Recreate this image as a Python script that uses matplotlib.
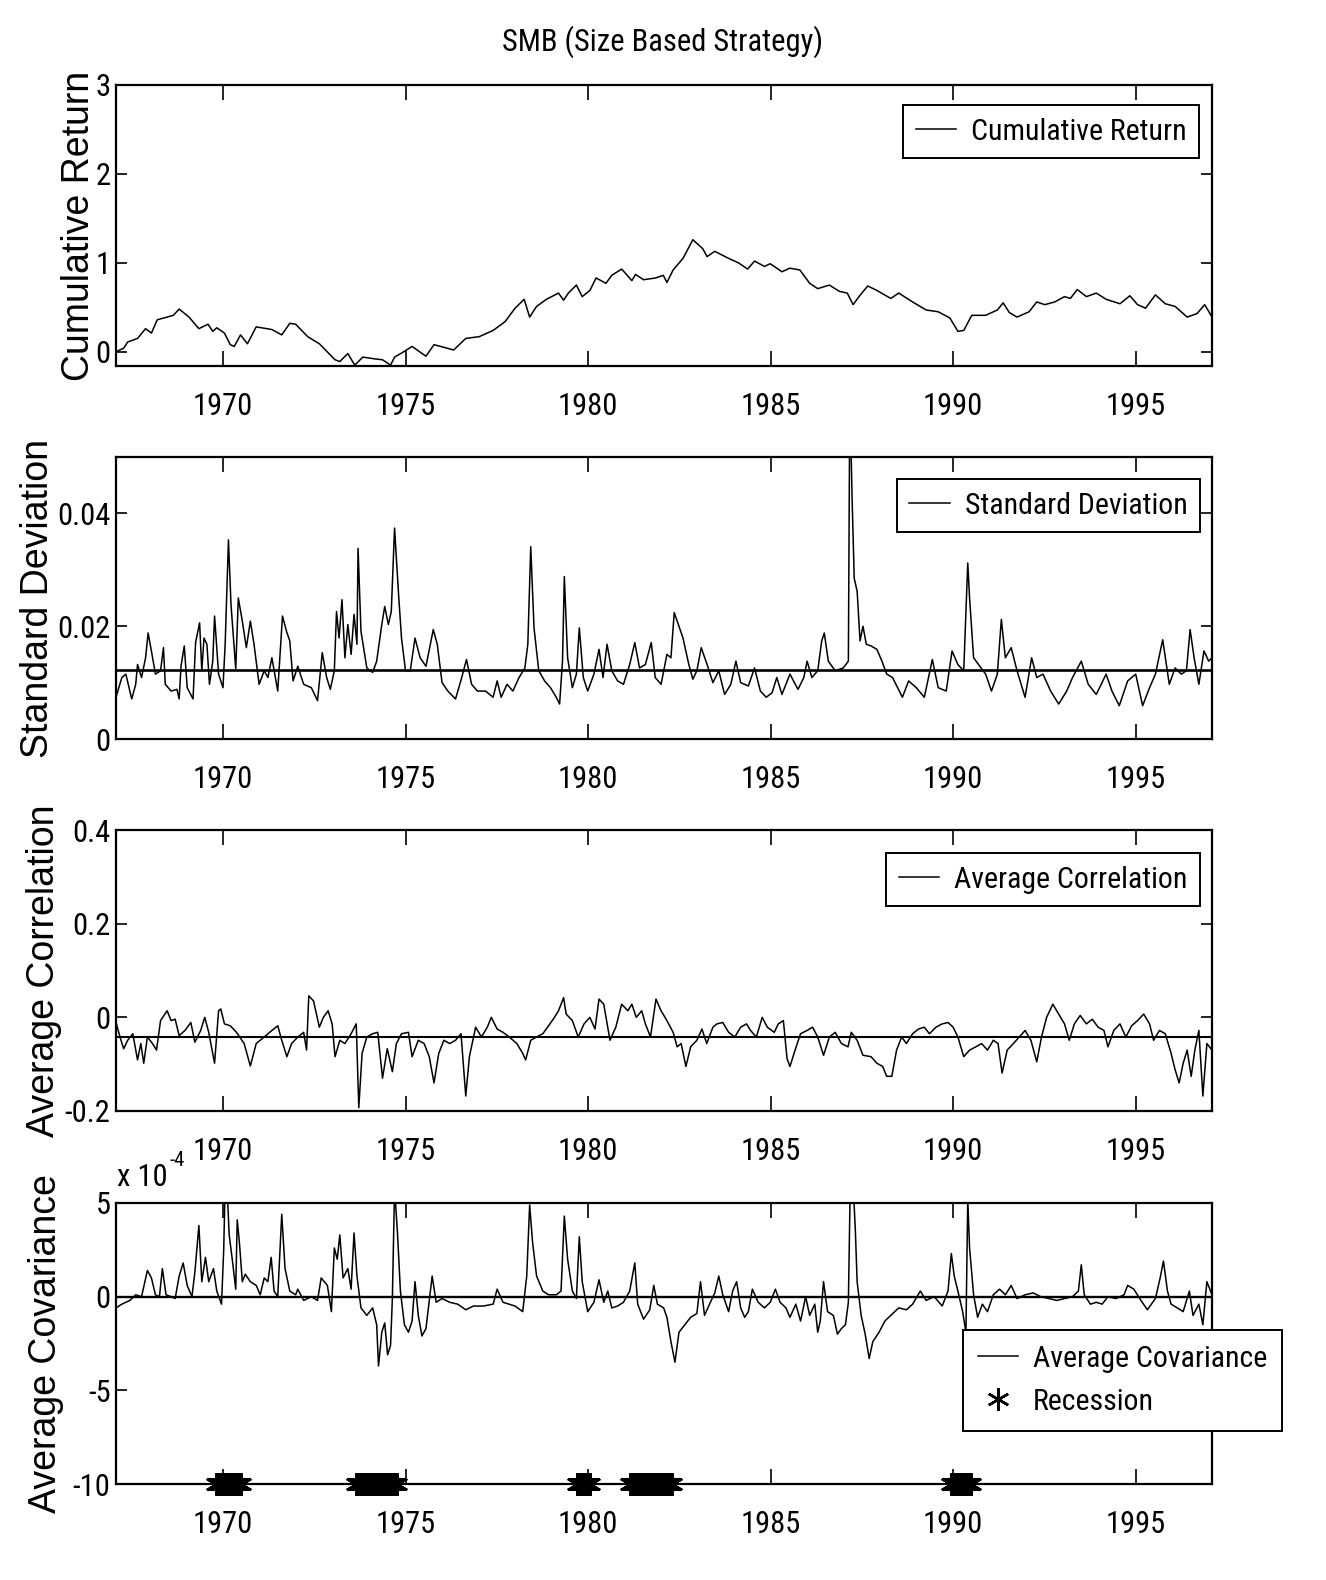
import numpy as np
import matplotlib
matplotlib.use('Agg')
import matplotlib.pyplot as plt
from matplotlib import font_manager

_fonts = font_manager.fontManager.ttflist
_names = {f.name for f in _fonts}


def pick_narrow():
    prefs = ['Liberation Sans Narrow', 'Arial Narrow', 'Nimbus Sans Narrow', 'Roboto Condensed',
             'Open Sans Condensed', 'Noto Sans Condensed', 'DejaVu Sans Condensed', 'Lato Condensed']
    for p in prefs:
        if p in _names:
            return p, 'normal'
    for f in _fonts:
        if ('Narrow' in f.name or 'Condensed' in f.name) and f.weight in (400, 'normal', 'regular') \
                and f.style == 'normal':
            return f.name, 'normal'
    for f in _fonts:
        if f.stretch in ('condensed', 'semi-condensed') and f.weight in (400, 'normal', 'regular') \
                and f.style == 'normal':
            return f.name, 'condensed'
    return None, None


NARROW, STRETCH = pick_narrow()
WIDE = 'Liberation Sans'
if NARROW is None:
    NARROW, STRETCH = 'Liberation Sans', 'normal'
    TICK_FS, LEG_FS, TITLE_FS, EXP_FS = 18.5, 17.5, 18.0, 18.0
else:
    TICK_FS, LEG_FS, TITLE_FS, EXP_FS = 22.0, 21.5, 22.0, 22.0
plt.rcParams['font.family'] = [NARROW, 'DejaVu Sans']
plt.rcParams['font.stretch'] = STRETCH
plt.rcParams['axes.unicode_minus'] = False

# ---------------- data ----------------
title = "SMB (Size Based Strategy)"
x_ticks = [1970, 1975, 1980, 1985, 1990, 1995]
x_tick_labels = ["1970", "1975", "1980", "1985", "1990", "1995"]

# Cumulative return
cr_year = [1967.07, 1967.28, 1967.39, 1967.66, 1967.88, 1968.04, 1968.20, 1968.47, 1968.64, 1968.80,
           1969.07, 1969.34, 1969.59, 1969.72, 1969.83, 1970.04, 1970.20, 1970.31, 1970.48, 1970.67,
           1970.91, 1971.34, 1971.61, 1971.83, 1971.99, 1972.32, 1972.64, 1973.07, 1973.20, 1973.42,
           1973.61, 1973.83, 1974.16, 1974.37, 1974.59, 1974.70, 1974.91, 1975.18, 1975.56, 1975.78,
           1976.32, 1976.65, 1977.02, 1977.40, 1977.73, 1978.00, 1978.25, 1978.40, 1978.59, 1978.86,
           1979.19, 1979.33, 1979.46, 1979.68, 1979.84, 1980.05, 1980.22, 1980.49, 1980.65, 1980.92,
           1981.20, 1981.30, 1981.52, 1981.85, 1982.06, 1982.16, 1982.33, 1982.60, 1982.87, 1983.14,
           1983.26, 1983.47, 1983.85, 1984.12, 1984.37, 1984.56, 1984.83, 1984.99, 1985.31, 1985.53,
           1985.80, 1986.07, 1986.29, 1986.61, 1986.88, 1987.10, 1987.26, 1987.42, 1987.66, 1987.91,
           1988.29, 1988.51, 1988.89, 1989.26, 1989.59, 1989.91, 1990.13, 1990.29, 1990.51, 1990.89,
           1991.21, 1991.37, 1991.54, 1991.75, 1992.08, 1992.29, 1992.51, 1992.78, 1993.05, 1993.21,
           1993.40, 1993.65, 1993.92, 1994.19, 1994.57, 1994.84, 1995.05, 1995.27, 1995.54, 1995.81,
           1996.08, 1996.41, 1996.68, 1996.89, 1997.09]
cr_val = [0.00, 0.04, 0.11, 0.15, 0.26, 0.21, 0.36, 0.39, 0.41, 0.48,
          0.39, 0.26, 0.31, 0.23, 0.27, 0.21, 0.08, 0.06, 0.19, 0.09,
          0.28, 0.25, 0.19, 0.32, 0.31, 0.17, 0.09, -0.09, -0.11, -0.02,
          -0.15, -0.06, -0.08, -0.09, -0.15, -0.06, -0.01, 0.06, -0.05, 0.08,
          0.02, 0.15, 0.17, 0.24, 0.34, 0.49, 0.59, 0.39, 0.51, 0.59,
          0.66, 0.58, 0.66, 0.75, 0.62, 0.69, 0.83, 0.77, 0.86, 0.93,
          0.80, 0.87, 0.81, 0.83, 0.86, 0.78, 0.92, 1.05, 1.26, 1.16,
          1.07, 1.13, 1.05, 1.00, 0.93, 1.02, 0.96, 0.99, 0.90, 0.94,
          0.92, 0.77, 0.71, 0.75, 0.68, 0.66, 0.53, 0.62, 0.74, 0.69,
          0.60, 0.66, 0.56, 0.47, 0.45, 0.38, 0.23, 0.24, 0.41, 0.41,
          0.47, 0.55, 0.44, 0.39, 0.45, 0.56, 0.53, 0.56, 0.62, 0.60,
          0.70, 0.62, 0.66, 0.59, 0.54, 0.63, 0.53, 0.49, 0.64, 0.54,
          0.51, 0.39, 0.43, 0.53, 0.39]

# Standard deviation (in units of 1e-3)
sd_year = [1967.07, 1967.23, 1967.34, 1967.50, 1967.61, 1967.66, 1967.77, 1967.88, 1967.95, 1968.04,
           1968.15, 1968.29, 1968.37, 1968.42, 1968.58, 1968.74, 1968.80, 1968.85, 1968.94, 1969.02,
           1969.18, 1969.25, 1969.36, 1969.42, 1969.48, 1969.56, 1969.63, 1969.72, 1969.77, 1969.88,
           1970.00, 1970.06, 1970.15, 1970.22, 1970.28, 1970.35, 1970.42, 1970.53, 1970.64, 1970.75,
           1970.85, 1970.99, 1971.13, 1971.23, 1971.34, 1971.50, 1971.63, 1971.74, 1971.83, 1971.92,
           1972.05, 1972.21, 1972.42, 1972.59, 1972.72, 1972.84, 1972.94, 1973.05, 1973.11, 1973.18,
           1973.26, 1973.34, 1973.42, 1973.51, 1973.59, 1973.67, 1973.70, 1973.78, 1973.94, 1974.10,
           1974.21, 1974.35, 1974.43, 1974.53, 1974.61, 1974.70, 1974.81, 1974.89, 1975.00, 1975.13,
           1975.26, 1975.40, 1975.56, 1975.76, 1975.87, 1976.00, 1976.16, 1976.37, 1976.54, 1976.67,
           1976.81, 1976.97, 1977.19, 1977.40, 1977.51, 1977.62, 1977.78, 1977.94, 1978.11, 1978.27,
           1978.35, 1978.43, 1978.52, 1978.65, 1978.81, 1978.97, 1979.13, 1979.22, 1979.30, 1979.35,
           1979.44, 1979.57, 1979.68, 1979.76, 1979.87, 1979.99, 1980.16, 1980.30, 1980.41, 1980.52,
           1980.65, 1980.81, 1980.97, 1981.14, 1981.28, 1981.41, 1981.57, 1981.73, 1981.84, 1982.00,
           1982.16, 1982.27, 1982.36, 1982.49, 1982.60, 1982.76, 1982.87, 1982.98, 1983.10, 1983.26,
           1983.42, 1983.58, 1983.74, 1983.91, 1984.05, 1984.18, 1984.39, 1984.56, 1984.72, 1984.88,
           1985.04, 1985.17, 1985.31, 1985.53, 1985.75, 1985.91, 1986.00, 1986.13, 1986.29, 1986.40,
           1986.47, 1986.58, 1986.77, 1986.99, 1987.13, 1987.17, 1987.23, 1987.29, 1987.37, 1987.45,
           1987.53, 1987.62, 1987.75, 1987.91, 1988.05, 1988.18, 1988.34, 1988.61, 1988.78, 1988.99,
           1989.21, 1989.43, 1989.59, 1989.81, 1989.97, 1990.13, 1990.29, 1990.40, 1990.45, 1990.56,
           1990.73, 1990.89, 1991.05, 1991.21, 1991.32, 1991.43, 1991.59, 1991.75, 1991.97, 1992.15,
           1992.29, 1992.46, 1992.67, 1992.89, 1993.11, 1993.27, 1993.51, 1993.70, 1993.92, 1994.19,
           1994.35, 1994.55, 1994.78, 1995.00, 1995.19, 1995.38, 1995.54, 1995.74, 1995.92, 1996.08,
           1996.25, 1996.39, 1996.49, 1996.60, 1996.73, 1996.87, 1997.00, 1997.09]
sd_val_e3 = [7.4, 10.9, 11.5, 7.1, 9.7, 13.2, 10.9, 14.4, 18.8, 15.6,
             11.5, 12.1, 16.2, 9.7, 8.5, 8.8, 7.1, 12.9, 16.5, 9.1,
             7.1, 17.1, 20.6, 12.1, 17.9, 16.8, 9.7, 13.8, 21.8, 11.5,
             9.1, 16.8, 35.3, 23.8, 18.5, 12.4, 25.0, 20.9, 16.2, 20.9,
             16.8, 9.7, 12.1, 10.9, 14.4, 8.5, 21.8, 19.1, 17.4, 10.3,
             12.9, 9.7, 9.1, 6.8, 15.3, 10.9, 8.8, 12.1, 22.6, 17.9,
             24.7, 14.4, 20.3, 15.0, 22.1, 16.8, 33.8, 19.1, 12.6, 11.8,
             13.8, 20.3, 23.5, 20.3, 22.6, 37.4, 25.6, 17.9, 12.1, 12.1,
             17.9, 14.4, 12.9, 19.4, 16.8, 10.0, 8.5, 7.1, 10.9, 14.1,
             9.7, 8.5, 8.5, 7.4, 10.3, 7.4, 9.7, 8.5, 10.9, 12.6,
             16.8, 34.1, 19.7, 12.1, 10.3, 9.1, 7.4, 6.2, 13.8, 28.8,
             14.4, 9.1, 11.5, 19.7, 10.9, 8.5, 11.5, 15.9, 10.9, 16.8,
             12.1, 10.3, 9.7, 13.2, 17.1, 12.6, 13.2, 17.1, 10.9, 9.7,
             15.0, 14.4, 22.4, 20.0, 17.9, 13.2, 10.6, 12.1, 16.2, 13.2,
             10.0, 12.1, 7.9, 9.7, 13.8, 10.0, 9.4, 12.6, 8.5, 7.4,
             8.2, 10.9, 7.9, 11.5, 8.8, 10.9, 13.8, 10.9, 12.1, 17.4,
             18.8, 13.8, 12.1, 12.6, 13.8, 62.0, 43.2, 28.5, 26.2, 17.4,
             20.0, 16.8, 16.5, 15.9, 13.8, 11.5, 10.9, 7.4, 10.3, 9.1,
             7.4, 14.1, 9.1, 8.5, 15.6, 13.2, 12.1, 31.2, 25.0, 14.4,
             12.9, 11.5, 8.5, 11.5, 21.2, 14.4, 16.2, 12.1, 7.4, 14.4,
             10.9, 11.5, 8.5, 6.2, 8.5, 10.9, 13.8, 9.7, 7.9, 11.5,
             8.5, 5.9, 10.3, 11.5, 5.9, 9.1, 11.5, 17.6, 9.7, 12.6,
             11.5, 12.1, 19.4, 14.4, 9.7, 15.6, 13.8, 14.4]
sd_mean = 0.0122

# Average correlation (in units of 1e-2)
corr_year = [1967.07, 1967.18, 1967.28, 1967.39, 1967.53, 1967.66, 1967.75, 1967.83, 1967.93, 1968.07,
             1968.18, 1968.29, 1968.47, 1968.58, 1968.69, 1968.80, 1968.96, 1969.12, 1969.23, 1969.39,
             1969.50, 1969.61, 1969.77, 1969.88, 1969.94, 1970.04, 1970.20, 1970.37, 1970.58, 1970.75,
             1970.91, 1971.13, 1971.34, 1971.50, 1971.61, 1971.75, 1971.88, 1972.05, 1972.21, 1972.29,
             1972.35, 1972.48, 1972.64, 1972.75, 1972.88, 1972.99, 1973.07, 1973.20, 1973.34, 1973.51,
             1973.65, 1973.72, 1973.81, 1973.94, 1974.10, 1974.24, 1974.37, 1974.50, 1974.64, 1974.75,
             1974.89, 1975.08, 1975.18, 1975.35, 1975.51, 1975.65, 1975.78, 1975.91, 1976.05, 1976.21,
             1976.37, 1976.52, 1976.65, 1976.75, 1976.92, 1977.08, 1977.24, 1977.35, 1977.51, 1977.67,
             1977.84, 1978.05, 1978.21, 1978.29, 1978.43, 1978.59, 1978.76, 1978.92, 1979.08, 1979.19,
             1979.33, 1979.40, 1979.57, 1979.73, 1979.89, 1980.05, 1980.19, 1980.30, 1980.43, 1980.60,
             1980.76, 1980.92, 1981.09, 1981.20, 1981.32, 1981.47, 1981.57, 1981.71, 1981.86, 1982.00,
             1982.16, 1982.33, 1982.44, 1982.55, 1982.68, 1982.81, 1982.98, 1983.12, 1983.25, 1983.42,
             1983.53, 1983.69, 1983.85, 1984.02, 1984.18, 1984.34, 1984.45, 1984.61, 1984.77, 1984.91,
             1985.10, 1985.21, 1985.35, 1985.45, 1985.53, 1985.67, 1985.82, 1986.00, 1986.15, 1986.29,
             1986.45, 1986.61, 1986.77, 1986.94, 1987.12, 1987.21, 1987.37, 1987.53, 1987.75, 1987.91,
             1988.07, 1988.18, 1988.32, 1988.45, 1988.59, 1988.72, 1988.89, 1989.05, 1989.21, 1989.35,
             1989.53, 1989.70, 1989.86, 1990.00, 1990.13, 1990.29, 1990.45, 1990.62, 1990.78, 1990.94,
             1991.10, 1991.23, 1991.34, 1991.48, 1991.65, 1991.81, 1991.97, 1992.13, 1992.29, 1992.42,
             1992.56, 1992.73, 1992.89, 1993.05, 1993.18, 1993.32, 1993.48, 1993.65, 1993.81, 1993.97,
             1994.13, 1994.24, 1994.40, 1994.57, 1994.73, 1994.89, 1995.05, 1995.22, 1995.38, 1995.49,
             1995.65, 1995.81, 1995.97, 1996.08, 1996.19, 1996.30, 1996.41, 1996.52, 1996.62, 1996.73,
             1996.84, 1996.95, 1997.09]
corr_val_e2 = [-1.1, -4.2, -6.7, -4.9, -3.5, -9.1, -5.6, -9.8, -4.2, -5.6,
               -7.0, -0.7, 1.4, -0.7, -0.4, -3.9, -2.8, -1.1, -5.3, -2.8,
               0.0, -3.2, -9.8, 1.4, 1.8, -1.4, -1.8, -3.2, -5.6, -10.4,
               -5.6, -4.2, -2.8, -1.8, -4.9, -8.4, -5.6, -4.2, -3.2, -7.0,
               4.6, 3.5, -2.1, 0.0, 1.4, -1.4, -8.4, -4.9, -5.6, -3.5,
               -1.4, -19.3, -7.7, -4.2, -3.5, -3.2, -13.0, -6.7, -11.6, -5.6,
               -3.5, -3.2, -8.4, -4.9, -5.6, -8.4, -14.0, -7.7, -4.9, -5.6,
               -4.9, -3.5, -16.8, -8.4, -2.1, -4.2, -2.1, 0.0, -2.5, -3.2,
               -4.2, -5.6, -7.7, -9.1, -4.9, -4.2, -3.5, -1.8, 0.0, 1.4,
               4.2, 0.7, -0.7, -4.2, -1.4, 0.0, -2.5, 3.9, 2.8, -4.9,
               -2.1, 2.8, 1.4, 2.8, 0.0, 1.4, -1.4, -4.2, 3.9, 1.4,
               -0.7, -3.2, -6.3, -5.6, -10.5, -6.3, -4.9, -2.5, -5.6, -2.1,
               -1.4, -1.1, -3.2, -4.2, -2.1, -1.4, -2.8, -4.2, 0.0, -2.1,
               -3.2, -1.4, -0.7, -8.8, -10.5, -7.0, -3.5, -2.8, -2.1, -4.2,
               -8.1, -4.2, -3.2, -5.6, -6.3, -3.2, -4.9, -8.1, -8.4, -9.8,
               -10.5, -12.6, -12.6, -7.0, -4.2, -5.6, -3.5, -2.5, -2.1, -3.5,
               -2.1, -1.4, -1.1, -2.1, -4.2, -8.4, -7.0, -6.3, -5.6, -7.0,
               -4.9, -5.6, -11.9, -7.0, -5.6, -4.2, -2.8, -4.9, -9.5, -4.2,
               0.0, 2.8, 0.7, -1.4, -4.9, -1.4, 0.4, -1.4, -0.4, -2.1,
               -2.8, -6.3, -2.8, -1.4, -4.2, -1.8, -0.7, 0.7, -1.4, -4.9,
               -2.8, -3.5, -7.7, -11.2, -14.0, -9.8, -7.0, -12.6, -7.0, -2.8,
               -16.8, -5.6, -7.0]
corr_mean = -0.043

# Average covariance (in units of 1e-4)
cov_year = [1967.07, 1967.23, 1967.45, 1967.61, 1967.77, 1967.93, 1968.04, 1968.15, 1968.26, 1968.34,
            1968.44, 1968.58, 1968.69, 1968.80, 1968.91, 1969.02, 1969.15, 1969.23, 1969.34, 1969.42,
            1969.52, 1969.61, 1969.74, 1969.83, 1969.96, 1970.02, 1970.06, 1970.12, 1970.17, 1970.26,
            1970.35, 1970.39, 1970.45, 1970.53, 1970.61, 1970.75, 1970.91, 1971.02, 1971.13, 1971.23,
            1971.32, 1971.40, 1971.50, 1971.61, 1971.70, 1971.83, 1971.99, 1972.05, 1972.21, 1972.42,
            1972.59, 1972.69, 1972.86, 1972.97, 1973.05, 1973.13, 1973.20, 1973.29, 1973.42, 1973.51,
            1973.59, 1973.67, 1973.78, 1973.94, 1974.10, 1974.21, 1974.26, 1974.35, 1974.43, 1974.51,
            1974.59, 1974.64, 1974.70, 1974.78, 1974.86, 1974.97, 1975.08, 1975.18, 1975.26, 1975.35,
            1975.45, 1975.56, 1975.73, 1975.84, 1976.00, 1976.21, 1976.43, 1976.65, 1976.86, 1977.13,
            1977.40, 1977.51, 1977.67, 1977.84, 1978.00, 1978.21, 1978.32, 1978.40, 1978.48, 1978.59,
            1978.76, 1978.92, 1979.13, 1979.26, 1979.35, 1979.44, 1979.57, 1979.68, 1979.76, 1979.84,
            1979.99, 1980.16, 1980.30, 1980.43, 1980.54, 1980.65, 1980.81, 1980.97, 1981.14, 1981.28,
            1981.36, 1981.52, 1981.69, 1981.80, 1981.90, 1982.07, 1982.16, 1982.27, 1982.38, 1982.49,
            1982.65, 1982.81, 1982.98, 1983.08, 1983.19, 1983.35, 1983.47, 1983.58, 1983.69, 1983.85,
            1983.96, 1984.07, 1984.18, 1984.29, 1984.39, 1984.50, 1984.66, 1984.83, 1984.99, 1985.13,
            1985.26, 1985.42, 1985.53, 1985.69, 1985.82, 1985.96, 1986.07, 1986.21, 1986.29, 1986.36,
            1986.45, 1986.56, 1986.72, 1986.83, 1986.94, 1987.05, 1987.13, 1987.19, 1987.26, 1987.32,
            1987.37, 1987.48, 1987.59, 1987.70, 1987.80, 1987.97, 1988.13, 1988.29, 1988.51, 1988.72,
            1988.89, 1989.10, 1989.26, 1989.48, 1989.70, 1989.86, 1989.95, 1990.03, 1990.13, 1990.26,
            1990.35, 1990.40, 1990.45, 1990.56, 1990.67, 1990.80, 1990.94, 1991.10, 1991.27, 1991.43,
            1991.59, 1991.75, 1991.97, 1992.19, 1992.40, 1992.62, 1992.84, 1993.05, 1993.27, 1993.43,
            1993.51, 1993.59, 1993.76, 1993.92, 1994.08, 1994.24, 1994.46, 1994.68, 1994.78, 1994.95,
            1995.11, 1995.32, 1995.54, 1995.67, 1995.76, 1995.87, 1995.97, 1996.14, 1996.30, 1996.47,
            1996.57, 1996.73, 1996.84, 1996.95, 1997.09]
cov_val_e4 = [-0.6, -0.4, -0.2, 0.1, 0.0, 1.4, 1.0, 0.1, 0.0, 1.5,
              0.1, 0.0, -0.1, 1.1, 1.8, 0.6, 0.0, 1.3, 3.8, 0.8,
              2.1, 0.8, 1.5, 0.3, -0.4, 2.5, 6.0, 5.5, 3.3, 1.9,
              0.4, 4.1, 2.9, 0.8, 1.2, 0.8, 0.6, 0.1, 1.0, 0.8,
              2.1, 0.3, 0.0, 4.4, 1.5, 0.3, 0.1, 0.4, -0.2, 0.0,
              -0.2, 1.0, 0.6, -0.8, 2.6, 2.0, 3.3, 1.0, 1.5, 0.4,
              3.4, 1.1, -0.6, -1.0, -0.6, -1.5, -3.7, -1.9, -1.4, -3.1,
              -2.6, -0.1, 5.8, 3.4, 0.3, -1.5, -1.9, -1.3, 0.8, -1.0,
              -2.1, -1.7, 1.1, -0.3, -0.1, -0.3, -0.4, -0.7, -0.5, -0.5,
              -0.4, 0.4, -0.3, -0.4, -0.5, -0.8, 1.1, 4.9, 2.9, 1.1,
              0.3, 0.1, 0.1, 0.3, 4.3, 2.0, 0.3, -0.1, 3.2, 0.8,
              -0.8, -0.3, 0.9, -0.3, 0.3, -0.6, -0.5, -0.3, 0.3, 1.8,
              -0.4, -1.2, -0.7, 0.6, -0.4, -0.6, -1.1, -2.4, -3.5, -1.9,
              -1.5, -1.1, -0.9, 0.8, -1.0, -0.3, 0.2, 1.1, 0.1, -0.8,
              0.3, 0.8, -0.6, -1.1, -0.8, 0.4, -0.3, -0.6, -0.3, 0.4,
              -0.3, -0.6, -1.1, -0.4, -1.3, 0.0, -1.0, -0.4, -1.9, -1.3,
              0.8, -0.8, -1.0, -2.0, -1.7, -1.5, -0.3, 7.0, 6.0, 3.6,
              0.8, -1.0, -2.0, -3.3, -2.4, -1.9, -1.3, -1.0, -0.6, -0.7,
              -0.4, 0.3, -0.2, 0.0, -0.5, 0.3, 2.3, 1.1, 0.3, -0.8,
              -1.9, 5.2, 2.6, 0.1, -1.1, -0.4, -0.8, 0.1, 0.4, 0.1,
              0.6, -0.1, 0.1, 0.2, 0.0, -0.1, -0.2, -0.1, 0.0, 0.3,
              1.7, 0.1, -0.4, -0.3, -0.4, 0.0, -0.1, 0.1, 0.6, 0.4,
              -0.1, -0.7, -0.1, 1.0, 1.9, 0.3, -0.4, -0.6, -0.8, 0.3,
              -1.0, -0.4, -1.5, 0.8, 0.1]
cov_mean = 0.0

# Recession periods (marker spans on the bottom axis)
rec_start = [1969.80, 1973.64, 1979.70, 1981.14, 1989.94]
rec_end = [1970.50, 1974.78, 1980.05, 1982.30, 1990.50]
rec_level = -10.0

# ---------------- figure ----------------
W, H = 1326, 1580
fig = plt.figure(figsize=(W / 100, H / 100), dpi=100)
XMIN, XMAX = 1967.07, 1997.09
AX_L, AX_R = 116, 1212


def make_axes(top, bottom):
    return fig.add_axes([AX_L / W, 1 - bottom / H, (AX_R - AX_L) / W, (bottom - top) / H])


def style(ax, yticks, ylabels, ylim, ylabel, label_px):
    ax.set_xlim(XMIN, XMAX)
    ax.set_ylim(*ylim)
    ax.set_xticks(x_ticks)
    ax.set_xticklabels(x_tick_labels)
    ax.set_yticks(yticks)
    ax.set_yticklabels(ylabels)
    ax.tick_params(direction='in', top=True, right=True, labelsize=TICK_FS, width=1.2,
                   colors='black')
    ax.tick_params(axis='x', length=11, pad=19)
    ax.tick_params(axis='y', length=8, pad=4)
    for s in ax.spines.values():
        s.set_linewidth(1.6)
    ax.set_ylabel(ylabel, fontsize=27, family=[WIDE, 'DejaVu Sans'], fontstretch='normal')
    ax.yaxis.set_label_coords((label_px - AX_L) / (AX_R - AX_L), 0.5)


def legend(ax, handles, labels, right, top, spacing=0.35, bpad=0.42):
    lg = ax.legend(handles, labels, loc='upper right',
                   bbox_to_anchor=(right / W, 1 - top / H), bbox_transform=fig.transFigure,
                   borderaxespad=0, fontsize=LEG_FS, handlelength=1.35, handletextpad=0.5,
                   borderpad=bpad, labelspacing=spacing, fancybox=False, framealpha=1,
                   edgecolor='black')
    lg.get_frame().set_linewidth(1.4)
    return lg


# Panel 1
ax1 = make_axes(85, 366)
l1, = ax1.plot(cr_year, cr_val, color='black', lw=1.1)
style(ax1, [0, 1, 2, 3], ["0", "1", "2", "3"], (-0.16, 3.0), "Cumulative Return", 97)
legend(ax1, [l1], ["Cumulative Return"], 1199, 105)
fig.text(663 / W, 1 - 42 / H, title, ha='center', va='center', fontsize=TITLE_FS)

# Panel 2
ax2 = make_axes(457, 739)
l2, = ax2.plot(sd_year, np.array(sd_val_e3) / 1000.0, color='black', lw=1.1)
ax2.axhline(sd_mean, color='black', lw=1.9)
style(ax2, [0, 0.02, 0.04], ["0", "0.02", "0.04"], (0, 0.05), "Standard Deviation", 56)
legend(ax2, [l2], ["Standard Deviation"], 1200, 479)

# Panel 3
ax3 = make_axes(830, 1111)
l3, = ax3.plot(corr_year, np.array(corr_val_e2) / 100.0, color='black', lw=1.1)
ax3.axhline(corr_mean, color='black', lw=1.5)
style(ax3, [-0.2, 0, 0.2, 0.4], ["-0.2", "0", "0.2", "0.4"], (-0.2, 0.4), "Average Correlation", 62)
legend(ax3, [l3], ["Average Correlation"], 1200, 853)

# Panel 4
ax4 = make_axes(1203, 1484)
l4, = ax4.plot(cov_year, cov_val_e4, color='black', lw=1.1)
ax4.axhline(cov_mean, color='black', lw=1.7)
rec_dates = np.concatenate([np.arange(s, e + 1e-9, 1 / 26.0) for s, e in zip(rec_start, rec_end)])
l5, = ax4.plot(rec_dates, np.full(rec_dates.shape, rec_level), linestyle='none',
               marker=(6, 2, 0), markersize=16, markeredgewidth=1.8, color='black',
               clip_on=False, zorder=5)
style(ax4, [-10, -5, 0, 5], ["-10", "-5", "0", "5"], (-10, 5), "Average Covariance", 64)
legend(ax4, [l4, l5], ["Average Covariance", "Recession"], 1282, 1330, spacing=0.5, bpad=0.5)

t_exp = fig.text(117 / W, 1 - 1186 / H, "x 10", ha='left', va='baseline', fontsize=EXP_FS)
fig.canvas.draw()
bb = t_exp.get_window_extent()
fig.text((bb.x1 + 2) / W, 1 - 1166 / H, "-4", ha='left', va='baseline', fontsize=EXP_FS * 0.68)

fig.savefig('out.png', dpi=100, facecolor='white')
